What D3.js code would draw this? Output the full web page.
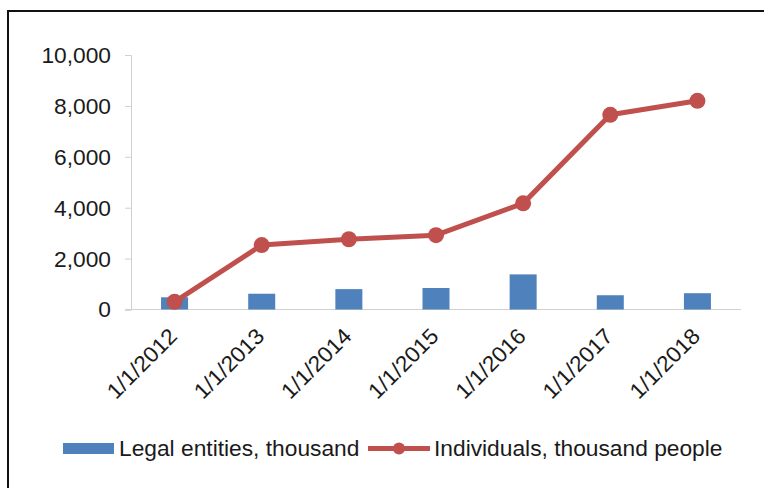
<!DOCTYPE html>
<html>
<head>
<meta charset="utf-8">
<script src="https://cdn.jsdelivr.net/npm/d3@7"></script>
<style>
  html, body { margin: 0; padding: 0; background: #fff; }
  svg { display: block; }
  text { font-family: "Liberation Sans", Arial, sans-serif; fill: #1a1a1a; }
</style>
</head>
<body>
<svg id="chart" width="764" height="488"></svg>
<script>
const categories = ["1/1/2012", "1/1/2013", "1/1/2014", "1/1/2015", "1/1/2016", "1/1/2017", "1/1/2018"];
const legalEntities = [480, 620, 800, 845, 1380, 560, 640];
const individuals = [300, 2530, 2760, 2920, 4170, 7650, 8200];
const yTicks = [0, 2000, 4000, 6000, 8000, 10000];
const seriesNames = ["Legal entities, thousand", "Individuals, thousand people"];

const svg = d3.select("#chart");
const blue = "#4f81bd", red = "#c0504d", axisCol = "#d0d0d0";
const FS = 22, SX = 1.035;

// outer frame
svg.append("rect").attr("x", 8).attr("y", 11).attr("width", 800).attr("height", 520)
  .attr("fill", "none").attr("stroke", "#111").attr("stroke-width", 2);

const x = d3.scaleBand().domain(categories).range([131, 741]).padding(0);
const y = d3.scaleLinear().domain([0, 10000]).range([309.5, 55]);
const fmt = d3.format(",");

// y axis (line + ticks via d3 axis, labels drawn separately)
const yAxis = svg.append("g").attr("transform", "translate(131,0)")
  .call(d3.axisLeft(y).tickValues(yTicks).tickFormat("").tickSizeOuter(0).tickSize(6));
yAxis.select(".domain").attr("stroke", axisCol);
yAxis.selectAll(".tick line").attr("stroke", axisCol);

svg.append("g").selectAll("text").data(yTicks).join("text")
  .attr("transform", d => `translate(111,${y(d)}) scale(${SX},1)`)
  .attr("text-anchor", "end")
  .attr("dy", "0.36em")
  .attr("font-size", FS)
  .text(d => fmt(d));

// x axis line
svg.append("line").attr("x1", 125).attr("x2", 741).attr("y1", y(0)).attr("y2", y(0))
  .attr("stroke", axisCol).attr("stroke-width", 1);

// bars
const bw = x.bandwidth() * 0.31;
svg.append("g").selectAll("rect").data(legalEntities).join("rect")
  .attr("x", (d, i) => x(categories[i]) + x.bandwidth() / 2 - bw / 2)
  .attr("y", d => y(d))
  .attr("width", bw)
  .attr("height", d => y(0) - y(d))
  .attr("fill", blue);

// line
const line = d3.line().x((d, i) => x(categories[i]) + x.bandwidth() / 2).y(d => y(d));
svg.append("path").datum(individuals).attr("d", line)
  .attr("fill", "none").attr("stroke", red).attr("stroke-width", 5).attr("stroke-linejoin", "round");
svg.append("g").selectAll("circle").data(individuals).join("circle")
  .attr("cx", (d, i) => x(categories[i]) + x.bandwidth() / 2)
  .attr("cy", d => y(d))
  .attr("r", 8)
  .attr("fill", red);

// x labels
svg.append("g").selectAll("text").data(categories).join("text")
  .attr("transform", d => `translate(${x(d) + x.bandwidth() / 2 + 4},${y(0) + 28}) rotate(-45) scale(${SX},1)`)
  .attr("text-anchor", "end")
  .attr("font-size", FS)
  .text(d => d);

// legend
const lg = svg.append("g");
lg.append("rect").attr("x", 63).attr("y", 443).attr("width", 51).attr("height", 11).attr("fill", blue);
lg.append("text").attr("transform", `translate(119,456) scale(${SX},1)`).attr("font-size", FS).text(seriesNames[0]);
lg.append("line").attr("x1", 368).attr("x2", 430).attr("y1", 448.5).attr("y2", 448.5)
  .attr("stroke", red).attr("stroke-width", 5);
lg.append("circle").attr("cx", 399).attr("cy", 448.5).attr("r", 6).attr("fill", red);
lg.append("text").attr("transform", `translate(434,456) scale(${SX},1)`).attr("font-size", FS).text(seriesNames[1]);
</script>
</body>
</html>
